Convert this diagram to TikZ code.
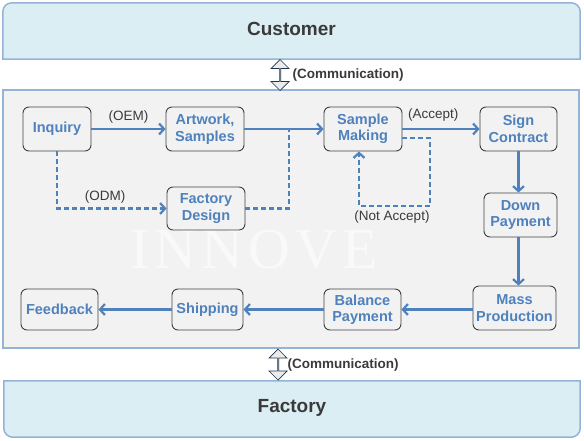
\documentclass[tikz,border=0pt]{standalone}
\usepackage{fontspec}
\setmainfont{Liberation Sans}
\newfontfamily\watermerkfont{Liberation Serif}
\usepackage{xcolor}
\usetikzlibrary{positioning,arrows.meta,calc,shapes.arrows}

\definecolor{stapblauw}{HTML}{4F81BD}
\definecolor{randblauw}{HTML}{95B3D7}
\definecolor{lichtblauw}{HTML}{DBEEF4}
\definecolor{grijsvlak}{HTML}{F2F2F2}
\definecolor{tekstgrijs}{HTML}{3A3A3A}

\tikzset{
  stap/.style={draw=black!75, line width=0.9pt, rounded corners=6pt, fill=grijsvlak, text=stapblauw,
    font=\fontsize{14.5}{16.5}\selectfont\bfseries, align=center, inner sep=0pt},
  pijl/.style={draw=stapblauw, line width=2.2pt, -{Straight Barb[length=5pt,width=11pt]}},
  pijlstreep/.style={pijl, dash pattern=on 5pt off 3pt},
  lijnstreep/.style={draw=stapblauw, line width=2.2pt, dash pattern=on 5pt off 3pt},
  keuze/.style={text=tekstgrijs, font=\fontsize{13.5}{16}\selectfont},
  band/.style={draw=randblauw, line width=1.5pt, fill=lichtblauw},
  contact/.style={double arrow, draw=black!60!stapblauw, fill=black!8, line width=0.7pt,
    rotate=90, minimum height=31pt, minimum width=18pt, double arrow head extend=4.5pt,
    inner sep=0pt}
}

\begin{document}
\begin{tikzpicture}[x=1pt, y=-1pt]
    \useasboundingbox (0,0) rectangle (584,440);

    % Klantband bovenaan
    \node[minimum width=577pt, minimum height=56pt, inner sep=0pt] (klant) at (291.5,31) {};
    \draw[band] (klant.south west) [rounded corners=9pt] -- (klant.north west) -- (klant.north east)
      [sharp corners] -- (klant.south east) -- cycle;
    \node[text=tekstgrijs, font=\fontsize{19}{20}\selectfont\bfseries] (klanttekst) at ([yshift=2pt]klant) {Customer};

    % Fabrieksband onderaan
    \node[minimum width=576pt, minimum height=56pt, inner sep=0pt] (fabriek) at (292,409) {};
    \draw[band] (fabriek.north west) [rounded corners=9pt] -- (fabriek.south west) -- (fabriek.south east)
      [sharp corners] -- (fabriek.north east) -- cycle;
    \node[text=tekstgrijs, font=\fontsize{19}{20}\selectfont\bfseries] (fabriektekst) at ([yshift=1pt]fabriek) {Factory};

    % Procesvlak
    \node[draw=randblauw, line width=1.5pt, fill=grijsvlak, minimum width=576pt, minimum height=258pt,
      inner sep=0pt] (proces) at (291,219) {};

    % Watermerk
    \node[text=white, text opacity=0.55, inner sep=0pt, font=\watermerkfont\fontsize{58}{58}\selectfont] (watermerk) at (254,250)
      {I\hspace{5pt}N\hspace{5pt}N\hspace{5pt}O\hspace{5pt}V\hspace{5pt}E};

    % Communicatie
    \node[contact] (bovencontact) at (280,75) {};
    \node[right, text=tekstgrijs, font=\fontsize{13.5}{16}\selectfont\bfseries] (boventekst) at (289,75) {(Communication)};
    \node[contact] (ondercontact) at (278,364.5) {};
    \node[right, text=tekstgrijs, font=\fontsize{13.5}{16}\selectfont\bfseries] (ondertekst) at (284,365) {(Communication)};

    % Stappen
    \node[stap, minimum width=68pt, minimum height=44pt] (inquiry) at (57,129) {Inquiry};
    \node[stap, minimum width=78pt, minimum height=44pt] (artwork) at (205,129) {Artwork,\\Samples};
    \node[stap, minimum width=78pt, minimum height=43pt] (design) at (206,208.5) {Factory\\Design};
    \node[stap, minimum width=78pt, minimum height=44pt] (making) at (363,129) {Sample\\Making};
    \node[stap, minimum width=77pt, minimum height=44pt] (contract) at (518.5,129) {Sign\\Contract};
    \node[stap, minimum width=73pt, minimum height=44pt] (down) at (520.5,215) {Down\\Payment};
    \node[stap, minimum width=83pt, minimum height=44pt] (mass) at (514.5,308) {Mass\\Production};
    \node[stap, minimum width=77pt, minimum height=41pt] (balance) at (362.5,309.5) {Balance\\Payment};
    \node[stap, minimum width=71pt, minimum height=41pt] (shipping) at (207.5,309.5) {Shipping};
    \node[stap, minimum width=77pt, minimum height=41pt] (feedback) at (59.5,309.5) {Feedback};

    % Hulppunten
    \coordinate (samen) at (289,129);
    \coordinate (weigerhoek) at (430,206);

    % Verbindingen
    \draw[pijl] (inquiry) -- node[keuze, above=1pt] (oem) {(OEM)} (artwork);
    \draw[pijlstreep] (inquiry.south) |- node[keuze, above=1pt, pos=0.72] (odm) {(ODM)} (design.west);
    \draw[pijl] (artwork) -- (making);
    \draw[lijnstreep] (design.east) -| (samen);
    \draw[pijl] (making) -- node[keuze, above=3pt, pos=0.4] (accept) {(Accept)} (contract);
    \draw[pijlstreep] ([yshift=-9pt]making.east) -| (weigerhoek) -| ([xshift=-4pt]making.south);
    \node[keuze, below=1pt] (weiger) at ($(weigerhoek)+(-38,0)$) {(Not Accept)};
    \draw[pijl] (contract) -- (contract |- down.north);
    \draw[pijl] (down.south -| contract) -- (contract |- mass.north);
    \draw[pijl] (mass.west |- balance) -- (balance);
    \draw[pijl] (balance) -- (shipping);
    \draw[pijl] (shipping) -- (feedback);
\end{tikzpicture}
\end{document}
